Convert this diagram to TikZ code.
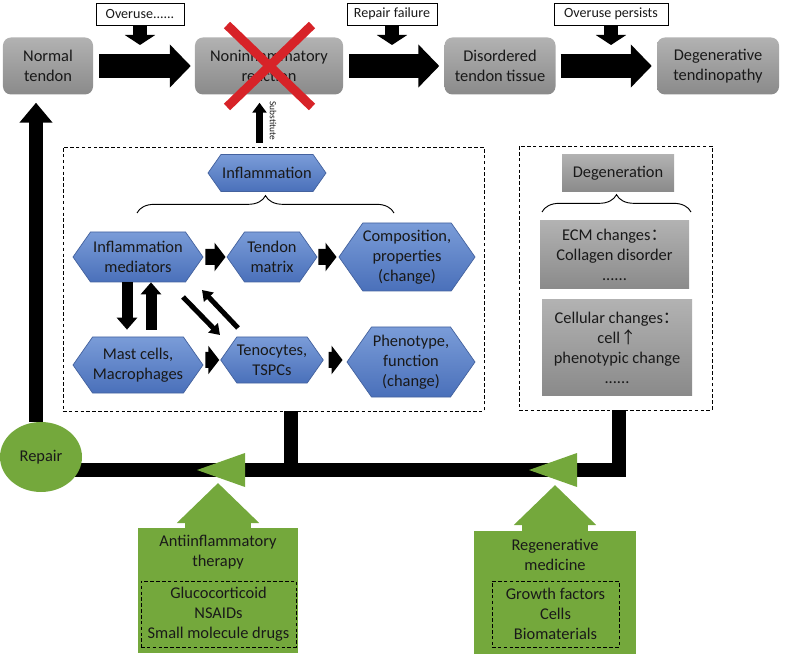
\documentclass[tikz,border=0pt]{standalone}
\usepackage{fontspec}
\setmainfont{Carlito}
\newfontfamily\cjk{Noto Sans CJK SC}
\usepackage{tikz}
\usetikzlibrary{arrows.meta}
\usetikzlibrary{shapes.symbols}
\usetikzlibrary{shapes.geometric}
\usetikzlibrary{decorations.pathreplacing}
\definecolor{textdark}{RGB}{25,25,25}
\definecolor{grayhi}{RGB}{178,178,178}
\definecolor{graylo}{RGB}{138,138,138}
\definecolor{hexhi}{RGB}{122,156,216}
\definecolor{hexlo}{RGB}{74,112,186}
\definecolor{hexedge}{RGB}{68,98,158}
\definecolor{greenfill}{RGB}{116,168,60}
\definecolor{crossred}{RGB}{215,35,40}

\begin{document}
\begin{tikzpicture}[x=0.03cm, y=-0.03cm,
  every node/.style={font=\fontsize{14}{17}\selectfont, text=textdark},
  graybox/.style={rounded corners=0.24cm, top color=grayhi, bottom color=graylo, align=center, inner sep=0pt, minimum height=1.71cm},
  flatbox/.style={top color=grayhi, bottom color=graylo, align=center, inner sep=0pt},
  tag/.style={draw, line width=0.6pt, fill=white, inner sep=0pt, minimum height=0.66cm, font=\fontsize{12}{14}\selectfont},
  hexa/.style={signal, signal to=east and west, signal pointer angle=110, draw=hexedge, line width=0.6pt, top color=hexhi, bottom color=hexlo, align=center, inner sep=0pt},
  dashframe/.style={draw, densely dashed, line width=0.5pt, inner sep=0pt},
  greenbox/.style={fill=greenfill, inner sep=0pt},
  bigarrow/.style={line width=0.72cm, -{Triangle[length=0.63cm,width=1.26cm]}},
  tagarrow/.style={line width=0.42cm, -{Triangle[length=0.3cm,width=0.9cm]}},
  smallarrow/.style={line width=0.48cm, -{Triangle[length=0.33cm,width=0.84cm]}},
  vertarrow/.style={line width=0.33cm, -{Triangle[length=0.36cm,width=0.6cm]}},
  diagarrow/.style={line width=0.15cm, -{Triangle[length=0.3cm,width=0.39cm]}},
  subarrow/.style={line width=0.21cm, -{Triangle[length=0.3cm,width=0.42cm]}},
  uparrow/.style={line width=0.42cm, -{Triangle[length=0.6cm,width=0.96cm]}},
  blackbar/.style={line width=0.42cm},
  callarrow/.style={greenfill, line width=1.98cm, -{Triangle[length=1.2cm,width=2.4cm]}},
  redcross/.style={crossred, line width=0.27cm},
  bracket/.style={decorate, decoration={brace, amplitude=0.52cm}, line width=0.8pt}]
\useasboundingbox (0,0) rectangle (787,657);

\node (normal) [graybox, minimum width=2.7cm] at (48,66) {Normal\\tendon};
\node (non) [graybox, minimum width=4.44cm] at (269,66) {Noninflammatory\\reaction};
\node (dis) [graybox, minimum width=3.33cm] at (500,66) {Disordered\\tendon tissue};
\node (deg) [graybox, minimum width=3.66cm] at (718,66) {Degenerative\\tendinopathy};
\node (ovr) [tag, minimum width=2.64cm] at (140,14) {Overuse......};
\node (rfail) [tag, minimum width=2.7cm] at (392,14) {Repair failure};
\node (ovrp) [tag, minimum width=3.42cm] at (611,14) {Overuse persists};
\coordinate (ovrtip) at (140,45);
\coordinate (rfailtip) at (392,45);
\coordinate (ovrptip) at (611,45);

\draw[bigarrow, shorten <=0.18cm, shorten >=0.12cm] (normal) -- (non);
\draw[bigarrow, shorten <=0.18cm, shorten >=0.15cm] (non) -- (dis);
\draw[bigarrow, shorten <=0.15cm, shorten >=0.15cm] (dis) -- (deg);
\draw[tagarrow] (ovr) -- (ovrtip);
\draw[tagarrow] (rfail) -- (rfailtip);
\draw[tagarrow] (ovrp) -- (ovrptip);
\draw[redcross] ([shift={(-42,-41)}]non.center) -- ([shift={(43,41)}]non.center);
\draw[redcross] ([shift={(43,-41)}]non.center) -- ([shift={(-42,41)}]non.center);

\node (inflbox) [dashframe, minimum width=12.63cm, minimum height=7.92cm] at (273.5,279) {};
\node (degbox) [dashframe, minimum width=5.79cm, minimum height=7.92cm] at (615.5,278) {};

\node (infl) [hexa, minimum width=3.54cm, minimum height=1.11cm] at (267,173) {Inflammation};
\node (med) [hexa, minimum width=3.9cm, minimum height=1.5cm] at (138,257) {Inflammation\\mediators};
\node (mtx) [hexa, minimum width=2.7cm, minimum height=1.5cm] at (272,257) {Tendon\\matrix};
\node (comp) [hexa, minimum width=4.05cm, minimum height=2.04cm] at (407,257) {Composition,\\properties\\(change)};
\node (mast) [hexa, minimum width=3.9cm, minimum height=1.68cm] at (138,365) {Mast cells,\\Macrophages};
\node (teno) [hexa, minimum width=2.7cm, minimum height=1.38cm] at (272,360) {Tenocytes,\\TSPCs};
\node (phen) [hexa, minimum width=3.84cm, minimum height=2.1cm] at (411,362) {Phenotype,\\function\\(change)};

\node (dgn) [flatbox, minimum width=3.36cm, minimum height=1.11cm] at (618,173) {Degeneration};
\node (ecm) [flatbox, minimum width=4.47cm, minimum height=2.04cm] at (614.5,255) {ECM changes{\cjk ：}\\Collagen disorder\\......};
\node (cel) [flatbox, minimum width=4.5cm, minimum height=2.85cm] at (617,347.5) {Cellular changes{\cjk ：}\\cell{\cjk ↑}\\phenotypic change\\......};

\draw[bracket] ([shift={(-130,40)}]infl.center) -- ([shift={(127,40)}]infl.center);
\draw[bracket] ([shift={(-76,39)}]dgn.center) -- ([shift={(73,39)}]dgn.center);

\draw[smallarrow, shorten <=0.06cm, shorten >=0.03cm] (med) -- (mtx);
\draw[smallarrow, shorten <=0.03cm, shorten >=0.06cm] (mtx) -- (comp);
\draw[smallarrow, shorten <=0.06cm, shorten >=0.03cm] (mast.east |- teno) -- (teno);
\draw[smallarrow, shorten <=0.15cm, shorten >=0.12cm] (teno) -- (teno -| phen.west);
\draw[vertarrow, shorten >=0.21cm] ([shift={(-11,0)}]med.south) -- ([shift={(-11,0)}]mast.north);
\draw[vertarrow, shorten <=0.21cm] ([shift={(13,0)}]mast.north) -- ([shift={(13,0)}]med.south);
\draw[diagarrow] ([shift={(45,40)}]med.center) -- ([shift={(-52,-25)}]teno.center);
\draw[diagarrow] ([shift={(-34,-32)}]teno.center) -- ([shift={(64,33)}]med.center);

\draw[subarrow, shorten >=0.24cm] ([shift={(-14,-4)}]inflbox.north) -- ([shift={(-14,0)}]inflbox.north |- non.south);
\node (subst) [font=\fontsize{8}{9}\selectfont, rotate=-90] at (273,121) {Substitute};

\coordinate (lvl) at (60,470);
\draw[blackbar] ([shift={(17.5,0)}]inflbox.south) |- (lvl);
\draw[blackbar] ([shift={(3.5,0)}]degbox.south) |- (lvl);
\coordinate (t1) at (221,470);
\coordinate (t2) at (553,470);
\fill[greenfill] ([shift={(-24,0)}]t1) -- ([shift={(24,-17)}]t1) -- ([shift={(24,17)}]t1) -- cycle;
\fill[greenfill] ([shift={(-24,0)}]t2) -- ([shift={(24,-17)}]t2) -- ([shift={(24,17)}]t2) -- cycle;

\node (repair) [ellipse, fill=greenfill, inner sep=0pt, minimum width=2.46cm, minimum height=2.1cm] at (41,457) {Repair};
\draw[uparrow, shorten >=0.24cm] ([shift={(-5,0)}]repair.north) -- ([shift={(-5,0)}]repair.north |- normal.south);

\node (anti) [greenbox, minimum width=4.8cm, minimum height=3.75cm] at (218,590.5) {};
\node (antitit) [align=center] at (218,552) {Antiinflammatory\\therapy};
\node (antilist) [dashframe, align=center, minimum width=4.65cm, minimum height=1.98cm] at (218.5,614) {Glucocorticoid\\NSAIDs\\Small molecule drugs};
\draw[callarrow, shorten >=0.39cm] (anti.north) -- (anti.north |- t1);

\node (regen) [greenbox, minimum width=4.86cm, minimum height=3.69cm] at (555,592.5) {};
\node (regentit) [align=center] at (555,555) {Regenerative\\medicine};
\node (regenlist) [dashframe, align=center, minimum width=3.81cm, minimum height=1.98cm] at (555.5,614) {Growth factors\\Cells\\Biomaterials};
\draw[callarrow, shorten >=0.45cm] (regen.north) -- (regen.north |- t2);
\end{tikzpicture}
\end{document}
